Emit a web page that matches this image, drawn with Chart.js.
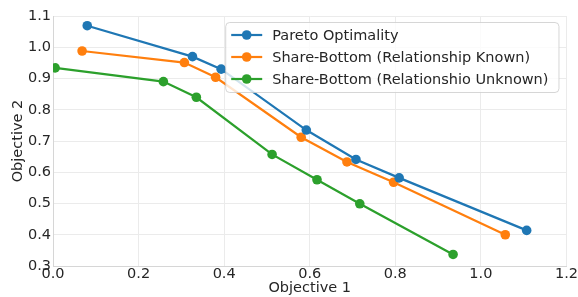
<!DOCTYPE html>
<html>
<head>
<meta charset="utf-8">
<script src="https://cdn.jsdelivr.net/npm/chart.js@4.4.1/dist/chart.umd.min.js"></script>
<style>
html,body{margin:0;padding:0;background:#fff;}
#wrap{width:578px;height:297px;position:relative;}
</style>
</head>
<body>
<div id="wrap"><canvas id="c" width="578" height="297"></canvas></div>
<script>
const seriesNames = ["Pareto Optimality", "Share-Bottom (Relationship Known)", "Share-Bottom (Relationshio Unknown)"];
const seriesColors = ["#1f77b4", "#ff7f0e", "#2ca02c"];
const xPareto = [0.080, 0.326, 0.393, 0.592, 0.708, 0.809, 1.107];
const yPareto = [1.069, 0.970, 0.930, 0.735, 0.641, 0.582, 0.414];
const xKnown = [0.068, 0.307, 0.380, 0.580, 0.687, 0.796, 1.057];
const yKnown = [0.988, 0.951, 0.904, 0.712, 0.633, 0.568, 0.400];
const xUnknown = [0.005, 0.258, 0.335, 0.512, 0.617, 0.717, 0.935];
const yUnknown = [0.934, 0.890, 0.840, 0.657, 0.576, 0.499, 0.337];
const xTicks = [0.0, 0.2, 0.4, 0.6, 0.8, 1.0, 1.2];
const yTicks = [0.3, 0.4, 0.5, 0.6, 0.7, 0.8, 0.9, 1.0, 1.1];

const FONT = "'DejaVu Sans', sans-serif";
const FS = 14.5;
const pts = (xs, ys) => xs.map((x, i) => ({x: x, y: ys[i]}));
const allX = [xPareto, xKnown, xUnknown];
const allY = [yPareto, yKnown, yUnknown];

const datasets = seriesNames.map((n, i) => ({
  label: n,
  data: pts(allX[i], allY[i]),
  showLine: true,
  borderColor: seriesColors[i],
  backgroundColor: seriesColors[i],
  borderWidth: 2.2,
  pointRadius: 4.8,
  pointBorderWidth: 0,
  pointHoverRadius: 4.8
}));

const legendPlugin = {
  id: 'mplLegend',
  afterDatasetsDraw(chart) {
    const ctx = chart.ctx, ca = chart.chartArea;
    ctx.save();
    ctx.font = FS + "px " + FONT;
    let maxW = 0;
    seriesNames.forEach(n => { maxW = Math.max(maxW, ctx.measureText(n).width); });
    const right = ca.right - 8, top = ca.top + 6;
    const w = 6 + 31 + 10 + maxW + 10;
    const h = 70;
    const left = right - w;
    ctx.globalAlpha = 0.8;
    ctx.fillStyle = '#ffffff';
    ctx.strokeStyle = '#cccccc';
    ctx.lineWidth = 1;
    ctx.beginPath();
    ctx.roundRect(left + 0.5, top + 0.5, w, h, 4);
    ctx.fill();
    ctx.stroke();
    ctx.globalAlpha = 1;
    seriesNames.forEach((n, i) => {
      const cy = top + 13 + i * 22;
      const lx = left + 6;
      ctx.strokeStyle = seriesColors[i];
      ctx.lineWidth = 2.2;
      ctx.beginPath();
      ctx.moveTo(lx, cy); ctx.lineTo(lx + 31, cy);
      ctx.stroke();
      ctx.fillStyle = seriesColors[i];
      ctx.beginPath();
      ctx.arc(lx + 15.5, cy, 4.8, 0, Math.PI * 2);
      ctx.fill();
      ctx.fillStyle = '#262626';
      ctx.textBaseline = 'middle';
      ctx.textAlign = 'left';
      ctx.fillText(n, lx + 41, cy + 1);
    });
    ctx.restore();
  }
};

new Chart(document.getElementById('c'), {
  type: 'scatter',
  data: { datasets: datasets },
  options: {
    responsive: false,
    animation: false,
    devicePixelRatio: 1,
    layout: { padding: { left: 10, right: 11, top: 16, bottom: 0 } },
    plugins: { legend: { display: false }, tooltip: { enabled: false } },
    scales: {
      x: {
        type: 'linear', min: 0, max: 1.2,
        afterBuildTicks: s => { s.ticks = xTicks.map(v => ({value: v})); },
        afterFit: s => { s.height = 31; },
        ticks: { font: { family: FONT, size: FS }, color: '#262626', padding: 0,
                 callback: v => v.toFixed(1), maxRotation: 0, autoSkip: false },
        grid: { color: '#ebebeb', drawTicks: false, lineWidth: 1 },
        border: { color: '#d6d6d6' },
        title: { display: true, text: 'Objective 1', font: { family: FONT, size: FS }, color: '#262626', padding: { top: 0, bottom: 0 } }
      },
      y: {
        type: 'linear', min: 0.3, max: 1.1,
        afterBuildTicks: s => { s.ticks = yTicks.map(v => ({value: v})); },
        afterFit: s => { s.width = 43; },
        ticks: { font: { family: FONT, size: FS }, color: '#262626', padding: 2,
                 callback: v => v.toFixed(1), autoSkip: false },
        grid: { color: '#ebebeb', drawTicks: false, lineWidth: 1 },
        border: { color: '#d6d6d6' },
        title: { display: true, text: 'Objective 2', font: { family: FONT, size: FS }, color: '#262626', padding: { top: 0, bottom: 0 } }
      }
    }
  },
  plugins: [legendPlugin]
});
</script>
</body>
</html>
